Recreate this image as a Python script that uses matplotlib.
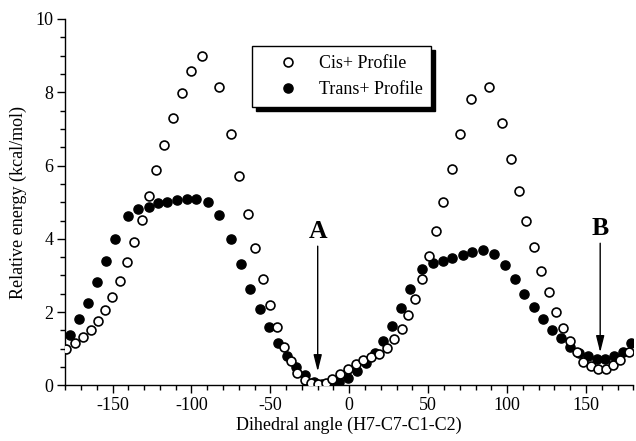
import matplotlib
matplotlib.use("Agg")
import matplotlib.pyplot as plt
from matplotlib.ticker import MultipleLocator

plt.rcParams['font.family'] = ['Liberation Serif', 'DejaVu Serif']
plt.rcParams['axes.unicode_minus'] = False

cis_x = [-179.3, -173.6, -168.5, -163.9, -159.3, -154.8, -150.2, -145.3, -140.7, -136.1,
         -131.6, -126.9, -122.3, -117.2, -111.9, -106.2, -100.5, -93.1, -82.3, -74.7,
         -69.6, -64.4, -59.5, -54.7, -50.0, -45.8, -41.2, -37.2, -32.8, -28.3,
         -24.0, -19.5, -15.0, -10.7, -5.7, -0.8, 4.0, 9.0, 14.0, 18.9,
         23.7, 28.6, 33.2, 37.4, 41.6, 46.4, 50.8, 54.8, 59.5, 65.0,
         70.3, 76.9, 88.7, 97.0, 102.2, 107.5, 112.2, 117.2, 121.8, 126.6,
         130.8, 135.5, 139.8, 144.0, 148.2, 153.0, 157.9, 162.5, 167.1, 171.8, 177.2]
cis_y = [1.00, 1.15, 1.31, 1.50, 1.76, 2.05, 2.42, 2.86, 3.36, 3.92,
         4.52, 5.17, 5.87, 6.57, 7.29, 7.97, 8.57, 8.98, 8.15, 6.87,
         5.72, 4.67, 3.75, 2.90, 2.19, 1.59, 1.06, 0.66, 0.35, 0.16,
         0.06, 0.03, 0.07, 0.18, 0.32, 0.44, 0.58, 0.69, 0.77, 0.87,
         1.02, 1.27, 1.55, 1.92, 2.36, 2.90, 3.52, 4.22, 5.00, 5.90,
         6.86, 7.81, 8.15, 7.15, 6.19, 5.31, 4.50, 3.77, 3.11, 2.54,
         2.01, 1.57, 1.21, 0.90, 0.65, 0.53, 0.45, 0.45, 0.55, 0.70, 0.91]

trans_x = [-177.0, -171.3, -165.6, -159.9, -154.0, -148.3, -139.9, -133.6, -127.2, -121.2,
           -115.3, -109.0, -102.9, -96.9, -89.7, -82.3, -74.7, -68.3, -62.6, -56.5,
           -51.0, -45.0, -39.2, -33.5, -27.9, -22.5, -17.1, -11.7, -6.2, -0.5,
           5.0, 10.9, 16.4, 21.4, 26.9, 32.7, 38.8, 46.4, 52.8, 59.1,
           65.4, 71.8, 77.8, 84.5, 91.8, 98.4, 105.0, 110.8, 116.8, 122.7,
           128.2, 134.1, 139.8, 145.7, 151.0, 157.0, 162.2, 167.9, 173.2, 178.5]
trans_y = [1.37, 1.80, 2.25, 2.81, 3.39, 4.00, 4.61, 4.81, 4.88, 4.99,
           5.01, 5.05, 5.08, 5.09, 5.01, 4.64, 3.99, 3.30, 2.64, 2.08,
           1.59, 1.17, 0.79, 0.51, 0.28, 0.10, 0.03, 0.05, 0.10, 0.21,
           0.39, 0.61, 0.88, 1.21, 1.62, 2.10, 2.62, 3.18, 3.33, 3.40,
           3.47, 3.56, 3.64, 3.69, 3.58, 3.29, 2.90, 2.50, 2.13, 1.81,
           1.51, 1.29, 1.06, 0.88, 0.79, 0.72, 0.71, 0.79, 0.90, 1.15]

x_ticks = [-150, -100, -50, 0, 50, 100, 150]
y_ticks = [0, 2, 4, 6, 8, 10]

# annotations: label, arrow x, arrow top y, arrow tip y
annot_labels = ['A', 'B']
annot_x = [-20, 159]
annot_top = [3.8, 3.88]
annot_tip = [0.38, 0.9]

fig = plt.figure(figsize=(6.36, 4.41), dpi=100)
ax = fig.add_axes([0.1025, 0.126, 0.8933, 0.831])

ax.plot(trans_x, trans_y, 'o', ms=6.6, mfc='black', mec='black', mew=1.0,
        label='Trans+ Profile', zorder=3)
ax.plot(cis_x, cis_y, 'o', ms=6.4, mfc='white', mec='black', mew=1.2,
        label='Cis+ Profile', zorder=4)

for lab, x, yt, yb in zip(annot_labels, annot_x, annot_top, annot_tip):
    ax.annotate('', xy=(x, yb), xytext=(x, yt),
                arrowprops=dict(arrowstyle='-|>,head_length=1.0,head_width=0.25',
                                color='black', lw=1.0, shrinkA=0, shrinkB=0),
                zorder=5)
    ax.text(x, yt + 0.08, lab, ha='center', va='bottom', fontsize=18.5,
            fontweight='bold')

ax.set_xlim(-180, 180)
ax.set_ylim(0, 10)
ax.set_xticks(x_ticks)
ax.set_yticks(y_ticks)
ax.xaxis.set_minor_locator(MultipleLocator(10))
ax.yaxis.set_minor_locator(MultipleLocator(0.5))
ax.tick_params(which='major', direction='out', length=5.5, width=1.0,
               labelsize=13, pad=3)
ax.tick_params(which='minor', direction='out', length=3.8, width=1.0)
ax.spines['top'].set_visible(False)
ax.spines['right'].set_visible(False)
for s in ('left', 'bottom'):
    ax.spines[s].set_linewidth(1.0)

ax.set_xlabel('Dihedral angle (H7-C7-C1-C2)', fontsize=13, labelpad=2)
ax.set_ylabel('Relative energy (kcal/mol)', fontsize=13, labelpad=6)

handles, labels = ax.get_legend_handles_labels()
leg = ax.legend(handles[::-1], labels[::-1], loc='upper left',
                bbox_to_anchor=(0.329, 0.765, 0.315, 0.161), mode='expand',
                borderaxespad=0,
                fontsize=13, frameon=True, fancybox=False,
                edgecolor='black', framealpha=1,
                shadow={'ox': 3, 'oy': -3, 'color': 'black', 'alpha': 1},
                handlelength=3.0, handletextpad=0.2, borderpad=0.5,
                labelspacing=0.5, numpoints=1)
leg.get_frame().set_linewidth(1.0)

fig.savefig('out.png', dpi=100)
